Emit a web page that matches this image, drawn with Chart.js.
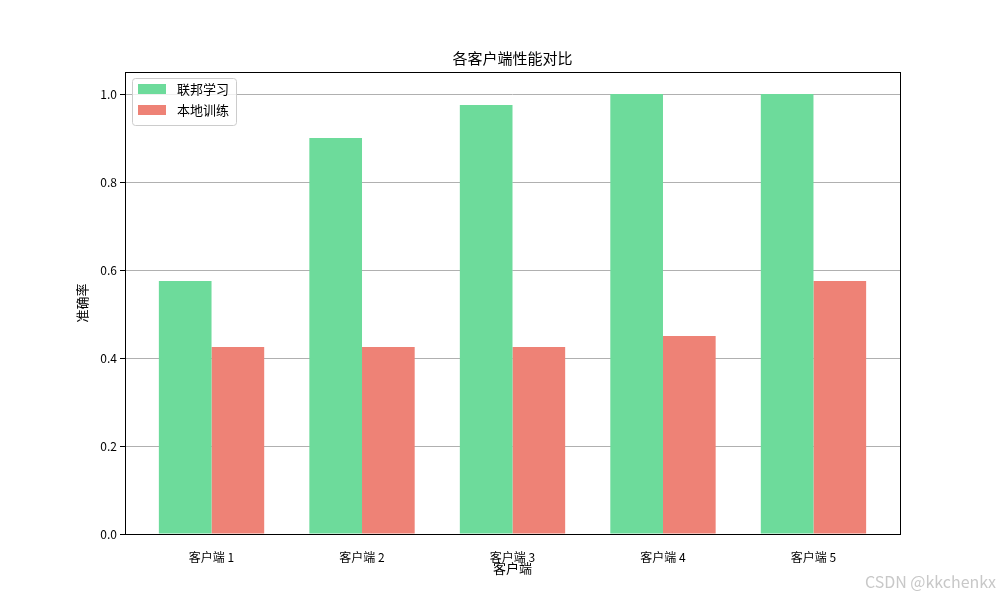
<!DOCTYPE html>
<html>
<head>
<meta charset="utf-8">
<script src="https://cdn.jsdelivr.net/npm/chart.js@4"></script>
<style>
	body { margin: 0; background: #fff; }
	#wrap { width: 1000px; height: 600px; }
</style>
</head>
<body>
<div id="wrap"><canvas id="c"></canvas></div>
<script>
const clients = ['客户端 1', '客户端 2', '客户端 3', '客户端 4', '客户端 5'];
const federated = [0.575, 0.9, 0.975, 1.0, 1.0];
const local = [0.425, 0.425, 0.425, 0.45, 0.575];
const yTicks = [0, 0.2, 0.4, 0.6, 0.8, 1.0];

const font = '"Noto Sans CJK SC", sans-serif';
const green = '#6ddb9b';
const red = '#ee8276';

// title, axis labels, legend and frame, drawn matplotlib style
const decor = {
	id: 'decor',
	afterDraw(chart) {
		const ctx = chart.ctx, a = chart.chartArea;
		ctx.save();
		ctx.strokeStyle = '#000';
		ctx.lineWidth = 1;
		ctx.strokeRect(a.left + 0.5, a.top + 0.5, a.right - a.left, a.bottom - a.top);

		ctx.fillStyle = '#000';
		ctx.textAlign = 'center';
		ctx.textBaseline = 'middle';
		ctx.font = `15px ${font}`;
		ctx.fillText('各客户端性能对比', (a.left + a.right) / 2, 58);
		ctx.font = `13px ${font}`;
		ctx.fillText('客户端', (a.left + a.right) / 2, 568);
		ctx.translate(82, (a.top + a.bottom) / 2);
		ctx.rotate(-Math.PI / 2);
		ctx.fillText('准确率', 0, 0);
		ctx.restore();

		// legend box
		ctx.save();
		ctx.fillStyle = 'rgba(255,255,255,0.8)';
		ctx.strokeStyle = '#ccc';
		ctx.beginPath();
		ctx.roundRect(132.5, 78.5, 104, 47, 3);
		ctx.fill();
		ctx.stroke();
		ctx.fillStyle = green;
		ctx.fillRect(138, 84, 28, 10);
		ctx.fillStyle = red;
		ctx.fillRect(138, 105, 28, 10);
		ctx.fillStyle = '#000';
		ctx.font = `13px ${font}`;
		ctx.textBaseline = 'middle';
		ctx.fillText('联邦学习', 177, 89);
		ctx.fillText('本地训练', 177, 110);
		ctx.fillStyle = '#c8c8c8';
		ctx.font = `16px ${font}`;
		ctx.textAlign = 'right';
		ctx.fillText('CSDN @kkchenkx', 996, 582);
		ctx.restore();
	}
};

new Chart(document.getElementById('c'), {
	type: 'bar',
	data: {
		datasets: [
			{ label: '联邦学习', data: federated.map((y, x) => ({ x, y })), backgroundColor: green },
			{ label: '本地训练', data: local.map((y, x) => ({ x, y })), backgroundColor: red },
		],
	},
	options: {
		responsive: true,
		maintainAspectRatio: false,
		animation: false,
		categoryPercentage: 0.7,
		barPercentage: 1,
		layout: { padding: { top: 72, right: 100, left: 0, bottom: 0 } },
		plugins: { legend: { display: false }, tooltip: { enabled: false } },
		scales: {
			x: {
				type: 'linear',
				offset: false,
				min: -0.575,
				max: 4.575,
				afterBuildTicks(s) { s.ticks = clients.map((c, i) => ({ value: i })); },
				grid: { display: false },
				border: { display: false },
				ticks: {
					color: '#000',
					font: { family: font, size: 12 },
					padding: 8,
					callback: v => clients[v],
				},
				afterFit(s) { s.height = 66; },
			},
			y: {
				min: 0,
				max: 1.05,
				afterBuildTicks(s) { s.ticks = yTicks.map(v => ({ value: v })); },
				afterFit(s) { s.width = 125; },
				border: { display: false },
				grid: { color: '#b0b0b0', tickColor: '#000', tickLength: 5 },
				ticks: {
					color: '#000',
					font: { family: font, size: 12 },
					callback: v => v.toFixed(1),
				},
			},
		},
	},
	plugins: [decor],
});
</script>
</body>
</html>
